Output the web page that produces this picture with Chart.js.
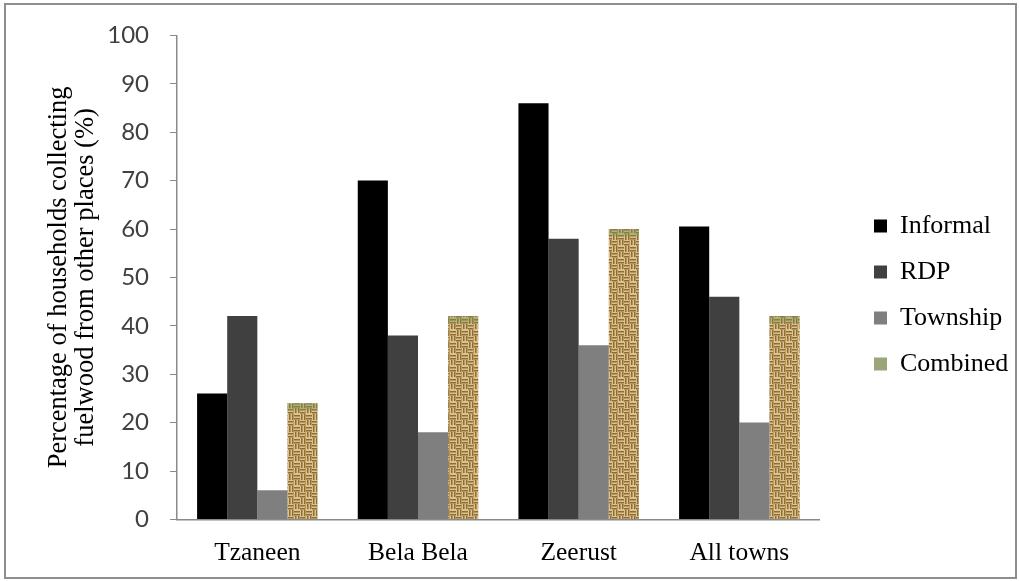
<!DOCTYPE html>
<html>
<head>
<meta charset="utf-8">
<script src="https://cdn.jsdelivr.net/npm/chart.js@4.4.1/dist/chart.umd.min.js"></script>
<style>
  html, body { margin: 0; padding: 0; background: #ffffff; }
  #wrap { width: 1019px; height: 581px; position: relative; }
</style>
</head>
<body>
<div id="wrap"><canvas id="chart" width="1019" height="581"></canvas></div>
<script>
// Towns surveyed
const towns = ['Tzaneen', 'Bela Bela', 'Zeerust', 'All towns'];

// Share of households collecting fuelwood from other places (%)
const informal = [26, 70, 86, 60.5];
const rdp      = [42, 38, 58, 46];
const township = [6, 18, 36, 20];
const combined = [24, 42, 60, 42];

const yTicks = [0, 10, 20, 30, 40, 50, 60, 70, 80, 90, 100];

// Woven tan texture used for the "Combined" bars
function weavePattern() {
  const c = document.createElement('canvas');
  c.width = 12; c.height = 12;
  const g = c.getContext('2d');
  g.fillStyle = '#dcc28c';
  g.fillRect(0, 0, 12, 12);
  g.fillStyle = '#8d6d36';
  g.fillRect(0, 1, 5, 1.5);
  g.fillRect(0, 4, 5, 1.5);
  g.fillRect(7, 0, 1.5, 5);
  g.fillRect(10, 0, 1.5, 5);
  g.fillRect(1, 6, 1.5, 6);
  g.fillRect(4, 6, 1.5, 6);
  g.fillRect(6, 7, 6, 1.5);
  g.fillRect(6, 10, 6, 1.5);
  g.fillStyle = '#bb9a5c';
  g.fillRect(5, 0, 1, 12);
  return g.createPattern(c, 'repeat');
}

const ctx = document.getElementById('chart').getContext('2d');

// White page with a thin grey frame
const framePlugin = {
  id: 'frame',
  beforeDraw(chart) {
    const g = chart.ctx;
    g.save();
    g.fillStyle = '#ffffff';
    g.fillRect(0, 0, chart.width, chart.height);
    g.strokeStyle = '#8e8e8e';
    g.lineWidth = 2;
    g.strokeRect(5, 4, 1011, 574);
    g.restore();
  }
};

// Greenish cap on top of the woven bars
const capPlugin = {
  id: 'cap',
  afterDatasetsDraw(chart) {
    const meta = chart.getDatasetMeta(3);
    const g = chart.ctx;
    g.save();
    g.fillStyle = 'rgba(120, 150, 90, 0.4)';
    meta.data.forEach(bar => {
      const p = bar.getProps(['x', 'y', 'width'], true);
      g.fillRect(p.x - p.width / 2, p.y, p.width, 7);
    });
    g.restore();
  }
};

// Move the legend column right and slightly up
const legendShift = {
  id: 'legendShift',
  afterLayout(chart) {
    const L = chart.legend;
    const pad = L.options.labels.padding;
    const dx = 874 - (L.left + pad);
    const dy = -13;
    L.left += dx; L.right += dx;
    L.top += dy; L.bottom += dy;
    if (L.legendHitBoxes) L.legendHitBoxes.forEach(b => { b.left += dx; b.top += dy; });
  }
};

const serif = "'Liberation Serif', 'Times New Roman', serif";
const sans = "Lato, 'Liberation Sans', sans-serif";

new Chart(ctx, {
  type: 'bar',
  data: {
    labels: towns,
    datasets: [
      { label: 'Informal', data: informal, backgroundColor: '#000000' },
      { label: 'RDP', data: rdp, backgroundColor: '#404040' },
      { label: 'Township', data: township, backgroundColor: '#7f7f7f' },
      { label: 'Combined', data: combined, backgroundColor: weavePattern() }
    ]
  },
  options: {
    responsive: false,
    animation: false,
    devicePixelRatio: 1,
    layout: { padding: { left: 46, right: 35, top: 28, bottom: -7 } },
    datasets: { bar: { categoryPercentage: 0.75, barPercentage: 1.0, borderWidth: 0 } },
    plugins: {
      tooltip: { enabled: false },
      legend: {
        position: 'right',
        labels: {
          font: { family: serif, size: 26 },
          color: '#000000',
          boxWidth: 13,
          boxHeight: 13,
          padding: 20,
          generateLabels(chart) {
            const swatch = ['#000000', '#404040', '#7f7f7f', '#9aa67a'];
            return chart.data.datasets.map((ds, i) => ({
              text: ds.label,
              fillStyle: swatch[i],
              strokeStyle: swatch[i],
              lineWidth: 0,
              hidden: false,
              datasetIndex: i,
              fontColor: '#000000'
            }));
          }
        }
      }
    },
    scales: {
      x: {
        grid: { display: false, drawTicks: false },
        border: { display: true, color: '#8a8a8a', width: 1.5 },
        ticks: { font: { family: serif, size: 25.5 }, color: '#000000', padding: 19 }
      },
      y: {
        min: 0,
        max: 100,
        afterBuildTicks(scale) { scale.ticks = yTicks.map(v => ({ value: v })); },
        afterFit(scale) { scale.width = 131; },
        grid: { display: true, drawOnChartArea: false, drawTicks: true, tickLength: 7, color: '#8a8a8a' },
        border: { display: true, color: '#8a8a8a', width: 1.5 },
        ticks: { font: { family: sans, size: 24 }, color: '#404040', padding: 21 },
        title: {
          display: true,
          text: ['Percentage of households collecting', 'fuelwood from other places (%)'],
          font: { family: serif, size: 26.5, lineHeight: 1.0 },
          color: '#000000',
          padding: { top: 0, bottom: 8 }
        }
      }
    }
  },
  plugins: [framePlugin, capPlugin, legendShift]
});
</script>
</body>
</html>
